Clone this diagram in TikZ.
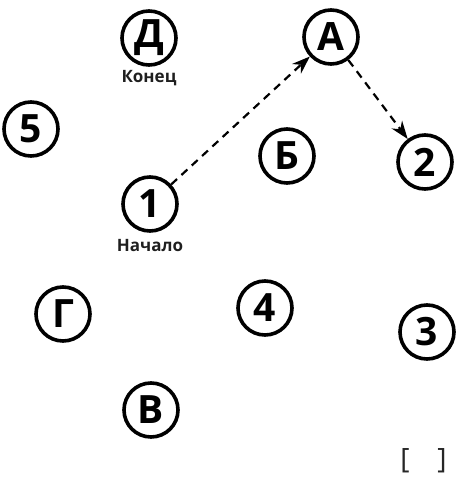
\documentclass[tikz,border=0pt]{standalone}
\usepackage{fontspec}
\setmainfont{Open Sans}
\usetikzlibrary{arrows.meta}
\tikzset{
  station/.style={circle, draw=black, line width=3.6pt, minimum size=54pt, inner sep=0pt,
    font=\fontsize{39}{39}\selectfont\bfseries, text=black},
  caption/.style={font=\fontsize{17}{17}\selectfont\bfseries, text=black!88},
  route/.style={line width=2.2pt, dash pattern=on 8pt off 6pt, -{Stealth[length=18pt,width=13pt]}},
  bracket/.style={font=\fontsize{28}{28}\selectfont, text=black!85}
}
\begin{document}
\begin{tikzpicture}[x=1pt,y=-1pt]
\useasboundingbox (0,0) rectangle (464,481);
\node[station] (D) at (149,38) {Д};
\node[caption] (kon) at (149,78) {Конец};
\node[station] (A) at (331,37) {А};
\node[station] (n5) at (31,129) {5};
\node[station] (B) at (287,156) {Б};
\node[station] (n2) at (425,162) {2};
\node[station] (n1) at (150,204) {1};
\node[caption] (nach) at (150,246) {Начало};
\node[station] (G) at (63,314) {Г};
\node[station] (n4) at (265,308) {4};
\node[station] (n3) at (427,332) {3};
\node[station] (V) at (151,410) {В};
\node[bracket] (lb) at (405,461) {[};
\node[bracket] (rb) at (442,461) {]};
\draw[route] (n1) -- (A);
\draw[route] (A) -- (n2);
\end{tikzpicture}
\end{document}
